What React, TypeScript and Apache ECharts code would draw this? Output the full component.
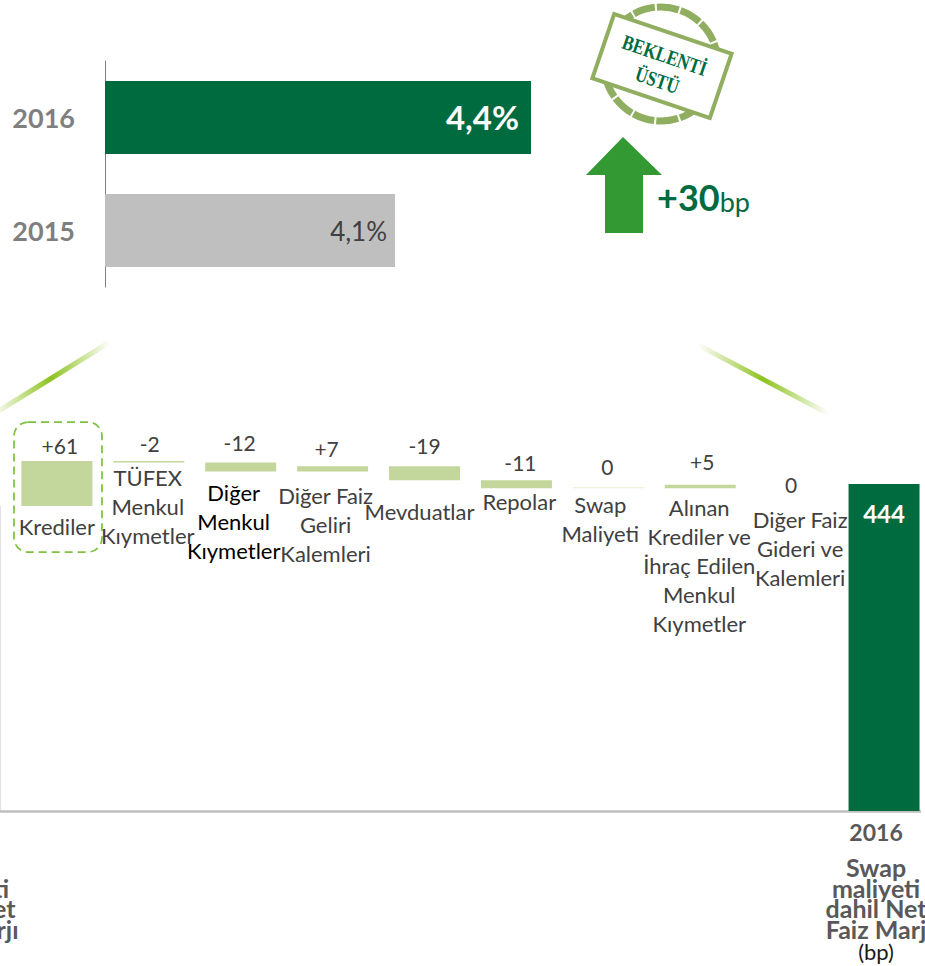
import React, { useEffect, useRef } from "react";
import * as echarts from "echarts";

const marginYears = ["2015", "2016"];
const marginValues = [4.1, 4.4];
const marginLabels = ["4,1%", "4,4%"];

const bridgeCategories = [
  "2015",
  "Krediler",
  "TÜFEX\nMenkul\nKıymetler",
  "Diğer\nMenkul\nKıymetler",
  "Diğer Faiz\nGeliri\nKalemleri",
  "Mevduatlar",
  "Repolar",
  "Swap\nMaliyeti",
  "Alınan\nKrediler ve\nİhraç Edilen\nMenkul\nKıymetler",
  "Diğer Faiz\nGideri ve\nKalemleri",
  "2016",
];
const bridgeBase = [0, 414, 473, 461, 461, 449, 438, 438, 438, 443, 0];
const bridgeHeight = [414, 61, 2, 12, 7, 19, 11, 0, 5, 0, 444];
const bridgeLabels = ["414", "+61", "-2", "-12", "+7", "-19", "-11", "0", "+5", "0", "444"];

const FONT = "Lato";
const DARK = "#006B3F";
const PALE = "#C3D69B";
const GREY = "#BFBFBF";
const TEXT = "#404040";
const ROT = -0.326;

// Hand placement of the labels, which the source slide positioned one by one.
const nameNudge: number[][] = [
  [0, 0], [0, 6], [-1, 0], [-7, 7], [-7, 10], [-5, 17], [3, -1], [-8, 2], [-1, 5], [8, 20], [0, 0],
];
const valueNudge: number[][] = [
  [0, 0], [3, -4], [1, -6], [-1, -8], [-6, -6], [0, -9], [4, -6], [-1, -9], [2, -11], [-1, 13], [0, 0],
];

function axisFooter(value: string) {
  const years = value === "2016" ? "{y|2016}" : "{y|2015}";
  const last = value === "2016" ? "{n|Faiz Marj}\n{b|(bp)}" : "{n|Faiz Marjı}\n{b|(bp)}";
  return `${years}\n{g| }\n{n|Swap}\n{n|maliyeti}\n{n|dahil Net}\n${last}`;
}

function buildOption() {
  const fade = (mid: string) => ({
    type: "linear",
    x: 0,
    y: 0,
    x2: 1,
    y2: 0,
    colorStops: [
      { offset: 0, color: "rgba(141,194,31,0)" },
      { offset: 0.5, color: mid },
      { offset: 1, color: "rgba(141,194,31,0)" },
    ],
  });
  return {
    animation: false,
    backgroundColor: "#ffffff",
    textStyle: { fontFamily: FONT },
    grid: [
      { left: 105, top: 61, width: 426, height: 226, outerBoundsMode: "none" },
      { left: -81, top: 369, width: 1011, height: 442, outerBoundsMode: "none" },
    ],
    xAxis: [
      { gridIndex: 0, type: "value", min: 3.46, max: 4.4, show: false },
      {
        gridIndex: 1,
        type: "category",
        data: bridgeCategories.map((c, i) =>
          i === bridgeCategories.length - 1
            ? { value: c, textStyle: { padding: [0, 16, 0, 0] } }
            : { value: c }
        ),
        axisLine: { lineStyle: { color: GREY, width: 2.5 } },
        axisTick: { show: false },
        axisLabel: {
          interval: 0,
          margin: 8,
          hideOverlap: false,
          formatter: (v: string) => (v === "2015" || v === "2016" ? axisFooter(v) : ""),
          rich: {
            y: { fontFamily: FONT, fontWeight: "bold", fontSize: 23, color: "#595959", lineHeight: 25 },
            g: { fontSize: 4, lineHeight: 13 },
            n: { fontFamily: FONT, fontWeight: "bold", fontSize: 25, color: "#595959", lineHeight: 20.5 },
            b: { fontFamily: FONT, fontSize: 22, color: "#1A1A1A", lineHeight: 25 },
          },
        },
      },
    ],
    yAxis: [
      {
        gridIndex: 0,
        type: "category",
        data: marginYears,
        axisLine: { lineStyle: { color: "#7F7F7F", width: 1 } },
        axisTick: { show: false },
        axisLabel: { margin: 30, fontFamily: FONT, fontWeight: "bold", fontSize: 27, color: "#7F7F7F" },
      },
      { gridIndex: 1, type: "value", min: 0, max: 600, show: false },
    ],
    series: [
      {
        type: "bar",
        xAxisIndex: 0,
        yAxisIndex: 0,
        barWidth: 73,
        data: marginValues.map((v, i) => ({
          value: v,
          itemStyle: { color: i === 1 ? DARK : GREY },
          label:
            i === 1
              ? { show: true, position: "insideRight", distance: 12, offset: [0, -1], formatter: marginLabels[i], color: "#fff", fontFamily: FONT, fontWeight: "bold", fontSize: 33 }
              : { show: true, position: "insideRight", distance: 8, formatter: marginLabels[i], color: TEXT, fontFamily: FONT, fontSize: 26 },
        })),
      },
      {
        type: "bar",
        name: "base",
        stack: "bridge",
        xAxisIndex: 1,
        yAxisIndex: 1,
        barWidth: 71,
        itemStyle: { color: "transparent" },
        data: bridgeBase.map((v, i) => ({
          value: v,
          label: {
            show: v > 0,
            position: "insideTop",
            distance: 0,
            offset: nameNudge[i],
            formatter: bridgeCategories[i],
            fontFamily: FONT,
            fontSize: 22,
            lineHeight: 29,
            align: "center",
            color: i === 3 ? "#000000" : TEXT,
          },
        })),
      },
      {
        type: "bar",
        name: "delta",
        stack: "bridge",
        xAxisIndex: 1,
        yAxisIndex: 1,
        barWidth: 71,
        barMinHeight: 1,
        data: bridgeHeight.map((v, i) => {
          const isEnd = i === 0 || i === bridgeHeight.length - 1;
          return {
            value: v,
            itemStyle: {
              color: i === 9 ? "transparent" : i === 7 ? "#E6EED2" : i === 0 ? GREY : isEnd ? DARK : PALE,
              ...(i === 0 ? { borderColor: GREY, borderWidth: 2 } : {}),
            },
            label: isEnd
              ? { show: true, position: "insideTop", distance: 18, formatter: bridgeLabels[i], color: "#fff", fontFamily: FONT, fontWeight: "bold", fontSize: 24, lineHeight: 24 }
              : { show: true, position: "top", distance: 0, offset: valueNudge[i], formatter: bridgeLabels[i], color: TEXT, fontFamily: FONT, fontSize: 21, lineHeight: 24 },
          };
        }),
      },
    ],
    graphic: [
      { type: "rect", z: 50, shape: { x: 921, y: 805, width: 4, height: 12 }, style: { fill: "#fff" } },
      { type: "line", z: 50, shape: { x1: -8, y1: 415, x2: 110, y2: 342 }, style: { stroke: fade("#8DC21F"), lineWidth: 5 } },
      { type: "line", z: 50, shape: { x1: 698, y1: 345, x2: 829, y2: 414 }, style: { stroke: fade("#8DC21F"), lineWidth: 5 } },
      { type: "rect", z: 50, shape: { x: 14, y: 422, width: 88, height: 130, r: 14 }, style: { fill: "none", stroke: "#7DC242", lineWidth: 1.75, lineDash: [8, 5] } },
      { type: "polygon", z: 50, shape: { points: [[623, 137], [662, 175], [643, 175], [643, 233], [605, 233], [605, 175], [586, 175]] }, style: { fill: "#339933" } },
      {
        type: "text",
        z: 50,
        x: 657,
        y: 197,
        style: {
          text: "{a|+30}{b|bp}",
          verticalAlign: "middle",
          rich: {
            a: { fontFamily: FONT, fontWeight: "bold", fontSize: 36, fill: DARK },
            b: { fontFamily: FONT, fontSize: 27, fill: DARK, verticalAlign: "bottom" },
          },
        },
      },
      {
        type: "group",
        z: 50,
        x: 661,
        y: 64,
        children: [
          { type: "circle", shape: { cx: 0, cy: 0, r: 57 }, style: { fill: "#fff", stroke: "#8FAE5F", lineWidth: 7, lineDash: [22, 2] } },
        ],
      },
      {
        type: "group",
        z: 51,
        x: 662,
        y: 66,
        rotation: ROT,
        children: [
          { type: "rect", shape: { x: -62, y: -34, width: 124, height: 68 }, style: { fill: "#fff", stroke: "#8FAE5F", lineWidth: 4 } },
          { type: "text", x: -1, y: -11, scaleX: 0.8, style: { text: "BEKLENTİ", align: "center", verticalAlign: "middle", fontFamily: "Liberation Serif", fontWeight: "bold", fontSize: 21, fill: DARK } },
          { type: "text", x: 0, y: 15, scaleX: 0.8, style: { text: "ÜSTÜ", align: "center", verticalAlign: "middle", fontFamily: "Liberation Serif", fontWeight: "bold", fontSize: 21, fill: DARK } },
        ],
      },
    ],
  };
}

export default function App() {
  const ref = useRef<HTMLDivElement>(null);
  useEffect(() => {
    const chart = echarts.init(ref.current, undefined, { renderer: "svg" });
    chart.setOption(buildOption() as any);
    return () => chart.dispose();
  }, []);
  return <div ref={ref} style={{ position: "absolute", left: 0, top: 0, width: 925, height: 966, overflow: "hidden" }} />;
}
